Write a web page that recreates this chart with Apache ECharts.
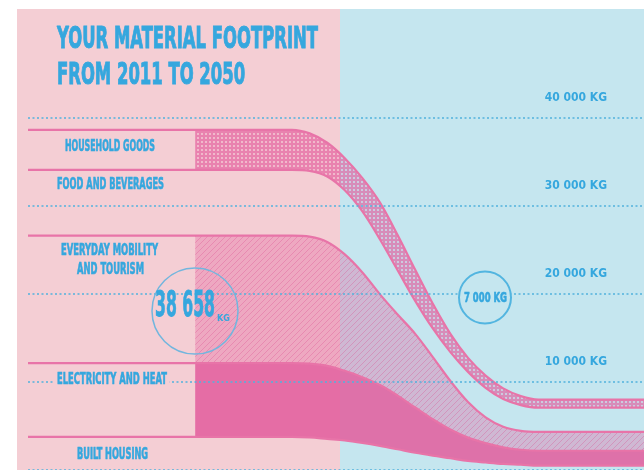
<!DOCTYPE html>
<html><head><meta charset="utf-8">
<script src="https://cdn.jsdelivr.net/npm/echarts@6/dist/echarts.min.js"></script>
<style>html,body{margin:0;padding:0;background:#fff}#c{width:644px;height:470px}</style>
</head><body><div id="c"></div>
<script>
// ---- data ----
const years        = [1992, 2011, 2022, 2024, 2026, 2028, 2030, 2032, 2034, 2036, 2038, 2040, 2042, 2044, 2046, 2048, 2050, 2062];
const builtHousing = [3770, 3770, 3770, 3710, 3540, 3370, 3090, 2750, 2360, 1960, 1630, 1340, 1030, 850, 690, 600, 490, 490];
const electricity  = [8380, 8380, 8380, 8380, 8290, 7900, 7460, 6910, 6100, 5140, 4140, 3260, 2650, 2200, 1890, 1700, 1700, 1700];
const mobility     = [14490, 14490, 14490, 14430, 14090, 13230, 11900, 10300, 9210, 8370, 7060, 5510, 4050, 2940, 2340, 2150, 2150, 2150];
const food         = [7470, 7470, 7470, 7470, 7430, 7280, 6930, 6230, 5030, 3750, 3250, 3280, 3400, 3340, 3140, 2920, 2740, 2740];
const household    = [4548, 4548, 4548, 4260, 3840, 3650, 3780, 4190, 3990, 3530, 2820, 2080, 1610, 1400, 1210, 1030, 920, 920];
const categories   = ['BUILT HOUSING', 'ELECTRICITY AND HEAT', 'EVERYDAY MOBILITY AND TOURISM', 'FOOD AND BEVERAGES', 'HOUSEHOLD GOODS'];
const yTicks       = [0, 10000, 20000, 30000, 40000];
const total2011 = '38 658';
const total2050 = '7 000 KG';
const fillStartYear = 2011;
const titleLines = ['YOUR MATERIAL FOOTPRINT', 'FROM 2011 TO 2050'];

// ---- styles ----
const BLUE = '#35a7de';
const LINE = '#e874a8';
const FONT = '"Liberation Sans Narrow", "DejaVu Sans Condensed", sans-serif';
const mctx = document.createElement('canvas').getContext('2d');
function scaleFor(text, size, target) {
  mctx.font = 'bold ' + size + 'px ' + FONT;
  return target / mctx.measureText(text).width;
}
function label(text, x, y, size, targetW, extra) {
  return Object.assign({
    type: 'text', x: x, y: y, scaleX: scaleFor(text, size, targetW), z: 10,
    style: Object.assign({text: text, fontSize: size, fontWeight: 'bold', fontFamily: FONT, fill: BLUE,
      stroke: BLUE, lineWidth: 0.6, align: 'center', verticalAlign: 'middle'}, (extra && extra.style) || {})
  }, (extra && extra.el) || {});
}
function dotPattern() {
  const c = document.createElement('canvas'); c.width = 4; c.height = 4;
  const g = c.getContext('2d');
  g.fillStyle = 'rgba(226,84,152,0.62)'; g.fillRect(0, 0, 4, 4);
  g.clearRect(1, 1, 2, 2);
  g.fillStyle = 'rgba(232,120,175,0.25)'; g.fillRect(1, 1, 2, 2);
  return c;
}
function hatchPattern() {
  const c = document.createElement('canvas'); c.width = 6; c.height = 6;
  const g = c.getContext('2d');
  g.fillStyle = 'rgba(228,92,156,0.33)'; g.fillRect(0, 0, 6, 6);
  g.strokeStyle = 'rgba(215,70,140,0.3)'; g.lineWidth = 1;
  g.beginPath(); g.moveTo(0, 6); g.lineTo(6, 0); g.moveTo(-1, 1); g.lineTo(1, -1); g.moveTo(5, 7); g.lineTo(7, 5); g.stroke();
  return c;
}
function yr(y) { return Date.UTC(y, 0, 1); }
const fills = [
  {name: categories[0], data: builtHousing, area: 'rgba(255,255,255,0)'},
  {name: categories[1], data: electricity,  area: 'rgba(226,92,156,0.85)'},
  {name: categories[2], data: mobility,     area: {image: hatchPattern(), repeat: 'repeat'}},
  {name: categories[3], data: food,         area: 'rgba(255,255,255,0)'},
  {name: categories[4], data: household,    area: {image: dotPattern(), repeat: 'repeat'}}
];
const SMOOTH = 0.35;
const series = [];
fills.forEach(function (f) {
  series.push({
    type: 'line', name: f.name + ' fill', stack: 'fills', smooth: SMOOTH,
    showSymbol: false, silent: true, z: 2,
    lineStyle: {width: 0},
    areaStyle: {color: f.area, opacity: 1},
    data: years.map(function (y, i) { return [yr(y), f.data[i]]; }).filter(function (p, i) { return years[i] >= fillStartYear; })
  });
});
fills.forEach(function (f) {
  series.push({
    type: 'line', name: f.name, stack: 'lines', smooth: SMOOTH,
    showSymbol: false, silent: true, z: 3,
    lineStyle: {width: 2.2, color: LINE},
    data: years.map(function (y, i) { return [yr(y), f.data[i]]; })
  });
});

const chart = echarts.init(document.getElementById('c'), null, {renderer: 'canvas'});
const tScale = scaleFor(titleLines[0], 31, 261);
function titleText(t, y) {
  return {type: 'text', x: 57, y: y, scaleX: tScale, z: 10, style: {text: t, fontSize: 31, fontWeight: 'bold', fontFamily: FONT, fill: BLUE, stroke: BLUE, lineWidth: 1, align: 'left', verticalAlign: 'middle'}};
}
chart.setOption({
  animation: false,
  backgroundColor: '#ffffff',
  grid: {left: 28, right: 0, top: 118, bottom: -1.3},
  xAxis: {type: 'time', min: yr(years[0]), max: yr(years[years.length - 1]), show: false},
  yAxis: {
    type: 'value', position: 'right', min: yTicks[0], max: yTicks[yTicks.length - 1], interval: yTicks[1] - yTicks[0], z: 4,
    axisLine: {show: false}, axisTick: {show: false},
    splitLine: {show: true, lineStyle: {color: '#52b2dd', width: 1.5, type: [2, 2.5]}},
    axisLabel: {
      inside: true, margin: 37, align: 'right', verticalAlign: 'bottom', padding: [0, 0, 14, 0],
      color: BLUE, fontFamily: FONT, fontWeight: 'bold', fontSize: 12,
      formatter: function (v) { return v === 0 ? '' : (v / 1000) + ' 000 KG'; }
    }
  },
  graphic: [
    {type: 'rect', z: -10, shape: {x: 17, y: 9, width: 323, height: 461}, style: {fill: '#f4ced4'}},
    {type: 'rect', z: -10, shape: {x: 340, y: 9, width: 304, height: 461}, style: {fill: '#c5e6ef'}},
    titleText(titleLines[0], 40),
    titleText(titleLines[1], 76),
    label('HOUSEHOLD GOODS', 110, 147, 15, 90),
    label('FOOD AND BEVERAGES', 110.5, 185, 15, 107),
    label('EVERYDAY MOBILITY', 109.5, 251, 15, 97),
    label('AND TOURISM', 110.5, 270, 15, 67),
    label('ELECTRICITY AND HEAT', 112, 380, 15, 110, {style: {backgroundColor: '#f4ced4', padding: [0, 4, 0, 4]}}),
    label('BUILT HOUSING', 112.5, 455, 15, 71),
    {type: 'circle', z: 9, shape: {cx: 195, cy: 311, r: 43}, style: {fill: 'none', stroke: '#72b6de', lineWidth: 1.5}},
    {type: 'text', x: 215, y: 325, scaleX: scaleFor(total2011, 36, 60), z: 10, style: {text: total2011, fontSize: 36, fontWeight: 'bold', fontFamily: FONT, fill: BLUE, stroke: BLUE, lineWidth: 0.8, align: 'right', verticalAlign: 'bottom'}},
    {type: 'text', x: 217, y: 323, scaleX: scaleFor('KG', 9, 13), z: 10, style: {text: 'KG', fontSize: 9, fontWeight: 'bold', fontFamily: FONT, fill: BLUE, align: 'left', verticalAlign: 'bottom'}},
    {type: 'circle', z: 9, shape: {cx: 485, cy: 297.5, r: 26}, style: {fill: '#c5e6ef', stroke: '#52b5e0', lineWidth: 2}},
    label(total2050, 485.5, 298.5, 14, 43)
  ],
  series: series
});
</script>
</body></html>
